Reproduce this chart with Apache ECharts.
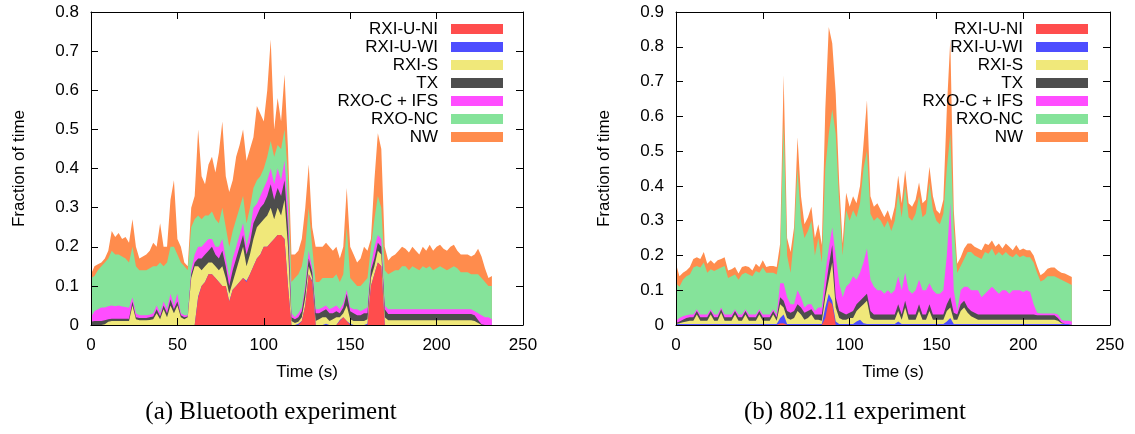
<!DOCTYPE html>
<html>
<head>
<meta charset="utf-8">
<title>Radio state breakdown over time</title>
<script src="https://cdn.jsdelivr.net/npm/echarts@6/dist/echarts.min.js"></script>
<style>
  html, body { margin: 0; padding: 0; background: #ffffff; }
  #chart { width: 1135px; height: 434px; }
</style>
</head>
<body>
<div id="chart"></div>
<script>
// Radio state fractions, one sample every 2 seconds, stacked from bottom to top.
const SAMPLE_STEP_S = 2;

const stateNames = ['RXI-U-NI', 'RXI-U-WI', 'RXI-S', 'TX', 'RXO-C + IFS', 'RXO-NC', 'NW'];
const stateColors = ['#ff4d4d', '#4d4dff', '#f0e87a', '#4d4d4d', '#ff4dff', '#85e39a', '#ff8c4d'];

const timeTicks = [0, 50, 100, 150, 200, 250];
const btFractionTicks = [0, 0.1, 0.2, 0.3, 0.4, 0.5, 0.6, 0.7, 0.8];
const wifiFractionTicks = [0, 0.1, 0.2, 0.3, 0.4, 0.5, 0.6, 0.7, 0.8, 0.9];

// ---- (a) Bluetooth experiment, t = 0 .. 232 s ----
const btRxiUNi = [
  0, 0, 0, 0, 0, 0, 0, 0, 0, 0,
  0, 0, 0, 0, 0, 0, 0, 0, 0, 0,
  0, 0, 0, 0, 0, 0, 0, 0, 0, 0,
  0, .07, .1, .11, .13, .13, .12, .11, .1, .1,
  .06, .09, .1, .11, .12, .11, .13, .15, .17, .18,
  .2, .2, .21, .22, .23, .23, .22, .1, 0, 0,
  0, .01, .05, .13, .11, 0, 0, 0, 0, 0,
  0, 0, .01, .02, .01, 0, 0, 0, 0, 0,
  0, .1, .13, .16, .15, 0, 0, 0, 0, 0,
  0, 0, 0, 0, 0, 0, 0, 0, 0, 0,
  0, 0, 0, 0, 0, 0, 0, 0, 0, 0,
  0, 0, 0, 0, 0, 0, 0
];
const btRxiUWi = [
  0, 0, 0, 0, 0, 0, 0, 0, 0, 0,
  0, 0, 0, 0, 0, 0, 0, 0, 0, 0,
  0, 0, 0, 0, 0, 0, 0, 0, 0, 0,
  0, .003, 0, 0, 0, 0, 0, 0, 0, 0,
  0, 0, 0, 0, 0, .003, 0, 0, 0, 0,
  0, 0, 0, 0, 0, 0, 0, 0, 0, 0,
  .003, 0, 0, 0, .003, 0, 0, 0, .003, 0,
  0, 0, .003, 0, 0, .003, 0, 0, 0, 0,
  .003, 0, 0, 0, 0, 0, 0, 0, 0, 0,
  0, 0, 0, 0, 0, 0, 0, 0, 0, 0,
  0, 0, 0, 0, 0, 0, 0, 0, 0, 0,
  0, 0, 0, 0, 0, 0, 0
];
const btRxiS = [
  0, 0, 0, 0, .002, .008, .01, .01, .01, .01,
  .01, .01, .05, .015, .012, .012, .012, .013, .015, .03,
  .015, .04, .02, .05, .03, .05, .02, .015, .02, .12,
  .15, .077, .04, .04, .03, .03, .03, .03, .05, .02,
  .02, .02, .04, .06, .08, .037, .05, .07, .08, .08,
  .07, .08, .09, .05, .07, .05, .1, .1, .01, .005,
  .005, .01, .02, .02, .007, .01, .015, .02, .017, .01,
  .015, .02, .007, .01, .04, .012, .01, .01, .01, .01,
  .012, .02, .02, .03, .03, .02, .012, .012, .012, .012,
  .012, .012, .012, .012, .012, .012, .012, .012, .012, .012,
  .012, .012, .012, .012, .012, .012, .012, .012, .012, .012,
  .012, .01, .005, 0, 0, 0, 0
];
const btTx = [
  .008, .01, .01, .01, .01, .007, .006, .006, .006, .006,
  .006, .006, .01, .005, .006, .006, .006, .007, .007, .01,
  .007, .01, .01, .015, .01, .01, .005, .005, .002, .01,
  .01, .02, .03, .03, .03, .04, .03, .03, .04, .03,
  .02, .03, .03, .03, .03, .03, .03, .04, .03, .04,
  .04, .05, .06, .05, .05, .05, .05, .05, .01, .01,
  .012, .015, .02, .02, .015, .02, .015, .015, .02, .02,
  .015, .015, .01, .015, .03, .02, .02, .015, .015, .02,
  .015, .02, .02, .02, .02, .02, .016, .016, .016, .016,
  .016, .016, .016, .016, .016, .016, .016, .016, .016, .016,
  .016, .016, .016, .016, .016, .016, .016, .016, .016, .016,
  .016, .015, .008, .002, 0, 0, 0
];
const btRxoCIfs = [
  .012, .025, .03, .035, .033, .033, .034, .032, .034, .031,
  .03, .028, .01, .01, .007, .007, .007, .006, .008, .01,
  .008, .01, .01, .015, .01, .02, .005, .005, .003, .01,
  .02, .03, .03, .03, .03, .02, .02, .03, .03, .02,
  .02, .03, .03, .03, .03, .02, .03, .04, .03, .03,
  .04, .04, .04, .04, .05, .04, .05, .05, .01, .005,
  .01, .01, .01, .02, .01, .01, .01, .01, .01, .01,
  .015, .015, .01, .01, .01, .01, .01, .015, .01, .01,
  .015, .01, .03, .02, .02, .01, .012, .012, .012, .012,
  .012, .012, .012, .012, .012, .012, .012, .012, .012, .012,
  .012, .012, .012, .012, .012, .012, .012, .012, .012, .012,
  .012, .01, .017, .023, .02, .02, .015
];
const btRxoNc = [
  .1, .09, .1, .105, .115, .122, .14, .132, .13, .128,
  .124, .116, .13, .12, .115, .115, .115, .119, .12, .1,
  .13, .09, .12, .12, .15, .1, .13, .125, .115, .11,
  .09, .08, .07, .07, .06, .07, .07, .06, .08, .08,
  .08, .07, .07, .07, .07, .06, .06, .05, .06, .05,
  .05, .06, .07, .07, .06, .08, .08, .08, .08, .1,
  .1, .105, .1, .11, .055, .07, .07, .075, .07, .08,
  .075, .08, .07, .075, .16, .075, .07, .06, .065, .07,
  .075, .05, .07, .1, .08, .09, .09, .095, .1, .1,
  .11, .11, .1, .11, .105, .1, .11, .105, .11, .1,
  .105, .11, .105, .1, .105, .11, .105, .095, .095, .095,
  .09, .095, .1, .095, .09, .08, .085
];
const btNw = [
  .01, .025, .015, .01, .01, .02, .05, .045, .055, .045,
  .055, .05, .07, .05, .03, .035, .04, .045, .06, .05,
  .1, .05, .04, .12, .17, .04, .04, .01, .01, .05,
  .06, .22, .11, .08, .13, .14, .12, .18, .22, .13,
  .14, .13, .16, .16, .17, .16, .15, .13, .19, .16,
  .12, .17, .26, .07, .12, .07, .14, .07, .07, .06,
  .06, .07, .1, .11, .05, .09, .09, .08, .09, .08,
  .07, .07, .06, .07, .1, .08, .07, .06, .07, .09,
  .07, .02, .1, .16, .15, .06, .035, .04, .04, .05,
  .05, .045, .045, .05, .045, .04, .05, .045, .055, .05,
  .055, .055, .05, .05, .055, .055, .045, .045, .045, .045,
  .045, .05, .065, .055, .035, .02, .025
];

// ---- (b) 802.11 experiment, t = 0 .. 228 s ----
const wifiRxiUNi = [
  0, 0, 0, 0, 0, 0, 0, 0, 0, 0,
  0, 0, 0, 0, 0, 0, 0, 0, 0, 0,
  0, 0, 0, 0, 0, 0, 0, 0, 0, 0,
  .005, .005, 0, 0, 0, 0, 0, 0, 0, 0,
  0, 0, 0, .02, .07, .06, 0, 0, 0, 0,
  0, 0, 0, 0, 0, 0, 0, 0, 0, 0,
  0, 0, 0, 0, 0, 0, 0, 0, 0, 0,
  0, 0, 0, 0, 0, 0, 0, 0, 0, 0,
  0, 0, 0, 0, 0, 0, 0, 0, 0, 0,
  0, 0, 0, 0, 0, 0, 0, 0, 0, 0,
  0, 0, 0, 0, 0, 0, 0, 0, 0, 0,
  0, 0, 0, 0, 0
];
const wifiRxiUWi = [
  .003, .003, .003, .003, .003, .003, .003, .003, .003, .003,
  .003, .003, .003, .003, .003, .003, .003, .003, .003, .003,
  .003, .003, .003, .003, .003, .003, .003, .003, .003, .003,
  .015, .025, .003, .003, .003, .003, .003, .003, .003, .003,
  .003, .003, .003, .03, .02, .01, .01, .003, .003, .003,
  .003, .003, .01, .015, .005, .003, .003, .003, .003, .003,
  .003, .003, .003, .003, .01, .003, .003, .003, .003, .003,
  .003, .003, .003, .003, .003, .003, .003, .003, .01, .02,
  .003, .003, .003, .003, .003, .003, .003, .003, .003, .003,
  .003, .003, .003, .003, .003, .003, .003, .003, .003, .003,
  .003, .003, .003, .003, .003, .003, .003, .003, .003, .003,
  .003, .003, .003, .003, .003
];
const wifiRxiS = [
  0, .002, .005, .007, .009, .009, .027, .009, .009, .009,
  .027, .009, .009, .032, .009, .009, .009, .027, .009, .009,
  .027, .009, .009, .009, .027, .009, .009, .009, .027, .009,
  .04, .02, .017, .012, .017, .037, .027, .012, .017, .027,
  .012, .012, .009, .03, .04, .11, .04, .017, .012, .012,
  .017, .017, .03, .035, .055, .067, .017, .012, .012, .012,
  .012, .012, .012, .012, .03, .012, .047, .012, .012, .012,
  .037, .012, .012, .037, .012, .012, .012, .012, .03, .03,
  .012, .012, .037, .047, .032, .022, .017, .012, .012, .012,
  .012, .012, .012, .012, .012, .012, .012, .012, .012, .012,
  .012, .012, .012, .012, .012, .012, .012, .012, .012, .012,
  .009, .002, 0, 0, 0
];
const wifiTx = [
  .003, .005, .007, .01, .01, .01, .01, .01, .01, .01,
  .01, .01, .01, .01, .01, .01, .01, .01, .01, .01,
  .01, .01, .01, .01, .01, .01, .01, .01, .01, .01,
  .02, .02, .02, .02, .02, .02, .02, .02, .02, .015,
  .015, .015, .018, .02, .04, .05, .03, .02, .02, .015,
  .015, .02, .02, .02, .02, .02, .02, .015, .015, .015,
  .015, .015, .015, .015, .02, .015, .02, .015, .015, .015,
  .02, .015, .015, .02, .015, .015, .015, .015, .02, .03,
  .02, .015, .02, .02, .015, .015, .015, .015, .015, .015,
  .015, .015, .015, .015, .015, .015, .015, .015, .015, .015,
  .015, .015, .015, .015, .013, .013, .013, .013, .013, .013,
  .008, .003, 0, 0, 0
];
const wifiRxoCIfs = [
  .006, .01, .01, .008, .008, .008, .005, .008, .008, .008,
  .005, .008, .008, .005, .008, .008, .008, .005, .008, .008,
  .005, .008, .008, .008, .005, .008, .008, .008, .005, .008,
  .04, .05, .04, .025, .02, .04, .03, .015, .02, .015,
  .01, .02, .02, .05, .05, .05, .12, .08, .045, .08,
  .085, .1, .07, .08, .1, .13, .09, .08, .07, .07,
  .06, .07, .06, .07, .08, .07, .08, .07, .06, .07,
  .07, .07, .07, .06, .07, .06, .06, .07, .14, .27,
  .065, .01, .04, .04, .06, .06, .065, .07, .05, .06,
  .07, .08, .07, .06, .07, .07, .06, .07, .07, .07,
  .065, .07, .065, .03, .007, .005, .005, .005, .005, .005,
  .01, .007, .009, .009, .007
];
const wifiRxoNc = [
  .108, .09, .105, .112, .115, .135, .125, .135, .15, .12,
  .115, .125, .13, .115, .14, .105, .11, .1, .1, .115,
  .105, .115, .11, .125, .105, .135, .12, .12, .105, .115,
  .08, .46, .12, .09, .19, .35, .22, .2, .21, .24,
  .16, .2, .13, .3, .33, .34, .35, .23, .12, .22,
  .18, .19, .18, .2, .27, .28, .19, .19, .21, .2,
  .19, .2, .18, .2, .24, .21, .25, .21, .21, .22,
  .24, .21, .22, .29, .23, .21, .2, .22, .25, .2,
  .18, .11, .07, .08, .1, .11, .1, .095, .11, .12,
  .105, .11, .1, .12, .1, .11, .11, .095, .105, .095,
  .105, .095, .1, .12, .115, .092, .097, .107, .107, .107,
  .105, .115, .113, .108, .105
];
const wifiNw = [
  .056, .03, .02, .017, .022, .025, .025, .025, .03, .026,
  .026, .021, .026, .025, .025, .022, .02, .022, .018, .022,
  .02, .022, .017, .021, .017, .021, .017, .02, .02, .022,
  .034, .138, .05, .06, .03, .09, .07, .04, .04, .04,
  .05, .04, .05, .17, .307, .19, .115, .06, .034, .05,
  .04, .04, .04, .05, .07, .146, .05, .04, .04, .03,
  .03, .03, .03, .04, .05, .04, .045, .04, .04, .04,
  .04, .04, .04, .045, .04, .03, .03, .04, .17, .27,
  .05, .026, .025, .03, .024, .024, .025, .025, .025, .024,
  .025, .023, .025, .024, .02, .024, .025, .02, .025, .02,
  .02, .02, .02, .02, .02, .018, .02, .022, .025, .025,
  .022, .02, .023, .023, .023
];

const btStates = [btRxiUNi, btRxiUWi, btRxiS, btTx, btRxoCIfs, btRxoNc, btNw];
const wifiStates = [wifiRxiUNi, wifiRxiUWi, wifiRxiS, wifiTx, wifiRxoCIfs, wifiRxoNc, wifiNw];

const SANS = '"Liberation Sans", Arial, Helvetica, sans-serif';
const SERIF = '"Liberation Serif", "Times New Roman", serif';
const INK = '#000000';
const FONT_SIZE = 17;

// Each band is filled from zero up to the running total of the states beneath
// and including it; the tallest band is drawn first so the lower ones sit on top.
function stackedBands(states, axisIndex) {
  const running = states[0].map(() => 0);
  const tops = states.map((values) => values.map((v, i) => (running[i] = +(running[i] + v).toFixed(4))));
  const bands = stateNames.map((name, k) => ({
    name: name,
    type: 'line',
    xAxisIndex: axisIndex,
    yAxisIndex: axisIndex,
    data: tops[k].map((v, i) => [i * SAMPLE_STEP_S, v]),
    symbol: 'none',
    showSymbol: false,
    smooth: false,
    z: 2,
    lineStyle: { width: 0, opacity: 0 },
    itemStyle: { color: stateColors[k] },
    areaStyle: { color: stateColors[k], opacity: 1, origin: 'start' },
    emphasis: { disabled: true },
    silent: true
  }));
  return bands.reverse();
}

function timeAxis(gridIndex, mirror) {
  return {
    gridIndex: gridIndex,
    type: 'value',
    position: mirror ? 'top' : 'bottom',
    min: timeTicks[0],
    max: timeTicks[timeTicks.length - 1],
    interval: timeTicks[1] - timeTicks[0],
    name: mirror ? '' : 'Time (s)',
    nameLocation: 'middle',
    nameGap: 39,
    nameTextStyle: { color: INK, fontFamily: SANS, fontSize: FONT_SIZE },
    axisLine: { show: true, onZero: false, lineStyle: { color: INK, width: 1 } },
    axisTick: { show: true, inside: true, length: 7, lineStyle: { color: INK, width: 1 } },
    axisLabel: { show: !mirror, color: INK, fontFamily: SANS, fontSize: FONT_SIZE, margin: 12 },
    splitLine: { show: false },
    z: 5
  };
}

function fractionAxis(gridIndex, ticks, mirror) {
  return {
    gridIndex: gridIndex,
    type: 'value',
    position: mirror ? 'right' : 'left',
    min: ticks[0],
    max: ticks[ticks.length - 1],
    interval: 0.1,
    name: mirror ? '' : 'Fraction of time',
    nameLocation: 'middle',
    nameGap: 63,
    nameTextStyle: { color: INK, fontFamily: SANS, fontSize: FONT_SIZE },
    axisLine: { show: true, onZero: false, lineStyle: { color: INK, width: 1 } },
    axisTick: { show: true, inside: true, length: 7, lineStyle: { color: INK, width: 1 } },
    axisLabel: { show: !mirror, color: INK, fontFamily: SANS, fontSize: FONT_SIZE, margin: 12 },
    splitLine: { show: false },
    z: 5
  };
}

function stateLegend(rightOffset) {
  return {
    orient: 'vertical',
    align: 'right',
    right: rightOffset,
    top: 20,
    padding: 0,
    itemGap: 0,
    itemWidth: 52,
    itemHeight: 10,
    icon: 'rect',
    selectedMode: false,
    data: stateNames,
    z: 10,
    textStyle: {
      color: INK, fontFamily: SANS, fontSize: FONT_SIZE,
      lineHeight: 18, padding: [0, 8, 0, 0]
    }
  };
}

const chart = echarts.init(document.getElementById('chart'), null, { renderer: 'canvas' });

chart.setOption({
  animation: false,
  backgroundColor: '#ffffff',
  color: stateColors,
  grid: [
    { left: 91, top: 12, width: 432, height: 313, containLabel: false },
    { left: 676, top: 12, width: 434, height: 313, containLabel: false }
  ],
  xAxis: [timeAxis(0, false), timeAxis(0, true), timeAxis(1, false), timeAxis(1, true)],
  yAxis: [
    fractionAxis(0, btFractionTicks, false), fractionAxis(0, btFractionTicks, true),
    fractionAxis(1, wifiFractionTicks, false), fractionAxis(1, wifiFractionTicks, true)
  ],
  legend: [stateLegend(632), stateLegend(47)],
  series: [].concat(stackedBands(btStates, 0), stackedBands(wifiStates, 2)),
  graphic: [
    {
      type: 'text', x: 271, y: 412, silent: true,
      style: {
        text: '(a) Bluetooth experiment', fill: INK,
        font: '25px ' + SERIF, textAlign: 'center', textVerticalAlign: 'middle',
        align: 'center', verticalAlign: 'middle'
      }
    },
    {
      type: 'text', x: 855, y: 412, silent: true,
      style: {
        text: '(b) 802.11 experiment', fill: INK,
        font: '25px ' + SERIF, textAlign: 'center', textVerticalAlign: 'middle',
        align: 'center', verticalAlign: 'middle'
      }
    }
  ]
});
</script>
</body>
</html>
